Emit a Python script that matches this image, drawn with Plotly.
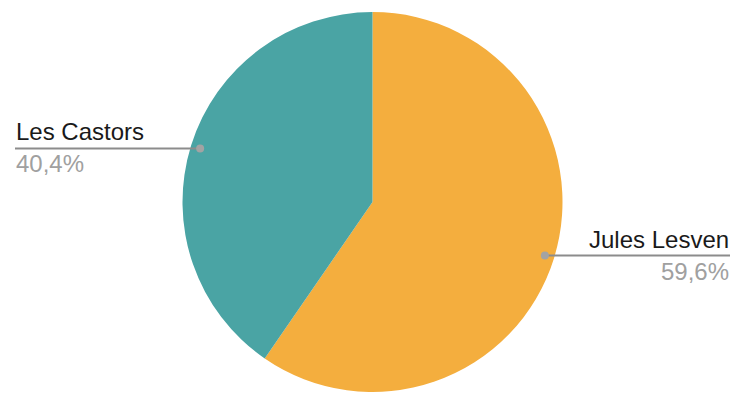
import math
import plotly.graph_objects as go

labels = ["Jules Lesven", "Les Castors"]
values = [59.6, 40.4]
colors = ["#F4AE3E", "#4AA4A4"]
pct_text = ["59,6%", "40,4%"]

# page body has an 8px margin; figure laid out in window coords minus that offset
OFF = 8
W, H = 742 - OFF, 404 - OFF
cx, cy, R = 372.5 - OFF, 202 - OFF, 190
line_ends = {"right": 730 - OFF, "left": 15 - OFF}

fig = go.Figure(go.Pie(
    labels=labels, values=values, sort=False, direction="clockwise", rotation=0,
    marker=dict(colors=colors, line=dict(width=0)),
    textinfo="none", hoverinfo="label+percent", showlegend=False,
    domain=dict(x=[(cx - R) / W, (cx + R) / W], y=[(H - cy - R) / H, (H - cy + R) / H]),
))

shapes, annotations = [], []
total = sum(values)
cum = 0
X = lambda x: x / W
Y = lambda y: 1 - y / H
for lab, v, pt in zip(labels, values, pct_text):
    mid = (cum + v / 2) / total * 2 * math.pi
    cum += v
    px = cx + 0.95 * R * math.sin(mid)
    py = cy - 0.95 * R * math.cos(mid)
    side = "right" if math.sin(mid) > 0 else "left"
    ex = line_ends[side]
    shapes.append(dict(type="line", xref="paper", yref="paper", x0=X(px), x1=X(ex), y0=Y(py), y1=Y(py),
                       line=dict(color="#8C8C8C", width=2)))
    shapes.append(dict(type="circle", xref="paper", yref="paper", x0=X(px - 4), x1=X(px + 4),
                       y0=Y(py - 4), y1=Y(py + 4), fillcolor="#A3A3A3", line=dict(width=0)))
    anchor = "right" if side == "right" else "left"
    annotations.append(dict(xref="paper", yref="paper", x=X(ex), y=Y(py - 2), text=lab, showarrow=False,
                            xanchor=anchor, yanchor="bottom", font=dict(size=24, color="#1A1A1A",
                            family="Liberation Sans, Arial, sans-serif"), borderpad=0))
    annotations.append(dict(xref="paper", yref="paper", x=X(ex), y=Y(py + 1), text=pt, showarrow=False,
                            xanchor=anchor, yanchor="top", font=dict(size=24, color="#A0A0A0",
                            family="Liberation Sans, Arial, sans-serif"), borderpad=0))

fig.update_layout(width=W, height=H, margin=dict(l=0, r=0, t=0, b=0),
                  paper_bgcolor="white", plot_bgcolor="white",
                  shapes=shapes, annotations=annotations)
fig.write_html("out.html")
